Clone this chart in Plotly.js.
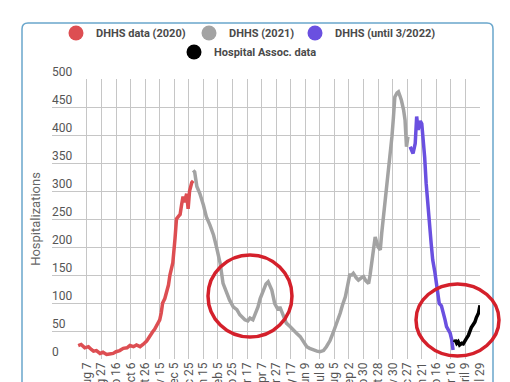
<!DOCTYPE html>
<html>
<head>
<meta charset="utf-8">
<script src="https://cdn.plot.ly/plotly-3.0.1.min.js"></script>
<style>html,body{margin:0;padding:0;background:#fff;}#chart{width:510px;height:382px;}</style>
</head>
<body>
<div id="chart"></div>
<script>
// x = data-point index (one point per reported day), ticks every 20 points
const tickIdx = [0,20,40,60,80,100,120,140,160,180,200,220,240,260,280,300,320,340,360,380,400,420,440,460,480,500,520,540];
const tickLabels = ['Aug 7','Aug 27','Sep 16','Oct 6','Oct 26','Nov 15','Dec 5','Dec 25','Jan 15','Feb 5','Feb 25','Mar 17','Apr 7','Apr 27','May 17','Jun 9','Jul 8','Aug 5','Sep 2','Sep 30','Oct 28','Nov 30','Dec 27','Jan 21','Feb 16','Mar 16','April 9','April 29'];

const dhhs2020X = [-12,-8,-3,2,6,9,13,18,22,27,31,36,40,45,50,55,59,64,68,73,77,80,82,85,87,91,93,97,100,102,104,107,110,112,114,118,121,123,126,128,130,132,134,137,139,141,144,146];
const dhhs2020Y = [24,26,20,22,17,14,15,10,12,8,9,10,13,15,19,20,24,22,25,22,26,29,32,38,43,50,53,62,70,82,100,108,120,132,150,172,215,250,255,258,275,290,280,295,268,300,315,318];

const dhhs2021X = [146,148,151,155,160,164,169,174,178,183,187,192,196,201,206,210,214,217,221,224,228,231,235,238,242,246,249,252,254,258,263,265,270,274,279,283,288,293,298,302,306,311,316,320,325,329,334,338,343,348,351,355,358,361,364,366,370,373,377,380,383,387,389,391,394,396,400,403,405,407,410,412,416,419,421,423,426,428,430,432,435,437,439,441];
const dhhs2021Y = [337,334,308,296,275,254,239,221,200,171,135,117,105,93,88,79,74,70,68,73,70,79,93,108,123,134,138,130,123,99,87,93,76,64,58,52,46,40,30,22,19,16,14,13,15,22,33,46,62,82,96,111,130,150,150,153,145,141,145,147,140,135,150,171,200,218,200,195,225,248,280,314,360,397,430,468,475,477,470,462,445,427,379,397];

const dhhs2022X = [444,446,448,451,453,455,458,460,462,464,466,468,471,473,475,478,480,482,484,487,490,492,494,497,499,501,503];
const dhhs2022Y = [379,372,367,385,433,409,425,420,397,360,314,275,236,205,177,155,135,120,99,95,82,70,58,52,46,35,16];

const hospAssocX = [505,506,508,510,512,515,517,519,521,524,526,528,531,533,535,538,540];
const hospAssocY = [30,34,28,31,25,28,27,33,36,42,50,56,62,66,74,82,96];

const lw = 3.5;
const cRed = '#dd4e52', cGrey = '#a3a3a3', cPurple = '#6a50e0', cBlack = '#000000';
const traces = [
  {x: dhhs2020X, y: dhhs2020Y, name: 'DHHS data (2020)', type: 'scatter', mode: 'lines', line: {color: cRed, width: lw}, showlegend: false},
  {x: dhhs2021X, y: dhhs2021Y, name: 'DHHS (2021)', type: 'scatter', mode: 'lines', line: {color: cGrey, width: lw}, showlegend: false},
  {x: dhhs2022X, y: dhhs2022Y, name: 'DHHS (until 3/2022)', type: 'scatter', mode: 'lines', line: {color: cPurple, width: lw}, showlegend: false},
  {x: hospAssocX, y: hospAssocY, name: 'Hospital Assoc. data', type: 'scatter', mode: 'lines', line: {color: cBlack, width: lw}, showlegend: false},
  // legend entries (circle markers)
  {x: [null], y: [null], name: 'DHHS data (2020)', type: 'scatter', mode: 'markers', marker: {color: cRed, size: 15}, legend: 'legend'},
  {x: [null], y: [null], name: 'DHHS (2021)', type: 'scatter', mode: 'markers', marker: {color: cGrey, size: 15}, legend: 'legend2'},
  {x: [null], y: [null], name: 'DHHS (until 3/2022)', type: 'scatter', mode: 'markers', marker: {color: cPurple, size: 15}, legend: 'legend3'},
  {x: [null], y: [null], name: 'Hospital Assoc. data', type: 'scatter', mode: 'markers', marker: {color: cBlack, size: 15}, legend: 'legend4'}
];

const L = 52, R = 480, T = 79, B = 359;
const px = v => (v - L) / (R - L);
const py = v => (B - v) / (B - T);
const rx = px(L + 6) - px(L), ry = py(T) - py(T + 6);
const bx0 = px(22), bx1 = px(493), byT = py(23), byB = py(400);
const borderPath = `M ${bx0},${byB} L ${bx0},${byT - ry} Q ${bx0},${byT} ${bx0 + rx},${byT} L ${bx1 - rx},${byT} Q ${bx1},${byT} ${bx1},${byT - ry} L ${bx1},${byB}`;

const legendFont = {family: 'Roboto, sans-serif', size: 11, color: '#4a4a4a', weight: 'bold'};
const mkLegend = (xl, yc) => ({orientation: 'h', x: px(xl), xanchor: 'left', y: py(yc), yanchor: 'middle', font: legendFont, bgcolor: 'rgba(0,0,0,0)', borderwidth: 0});

const layout = {
  width: 510, height: 382,
  margin: {l: L, r: 510 - R, t: T, b: 382 - B, pad: 0},
  paper_bgcolor: '#ffffff', plot_bgcolor: '#ffffff',
  font: {family: 'Roboto, sans-serif', size: 12, color: '#555'},
  xaxis: {
    range: [-48, 540], tickmode: 'array', tickvals: tickIdx, ticktext: tickLabels,
    tickangle: -90, showgrid: true, gridcolor: '#c6c6c6', gridwidth: 1,
    zeroline: false, showline: false, ticks: '', tickfont: {size: 12, color: '#555'}
  },
  yaxis: {
    range: [0, 500], dtick: 50, tick0: 0, showgrid: true, gridcolor: '#c6c6c6', gridwidth: 1,
    zeroline: false, showline: false, ticks: '',
    ticklabelposition: 'inside', ticklabeloverflow: 'allow', ticklabelshift: -7, ticklabelstandoff: -3,
    tickfont: {size: 12, color: '#555'},
    title: {text: 'Hospitalizations', font: {size: 13, color: '#666'}, standoff: 8}
  },
  legend: mkLegend(56, 33),
  legend2: mkLegend(189, 33),
  legend3: mkLegend(295, 33),
  legend4: mkLegend(174, 52),
  shapes: [
    {type: 'path', xref: 'paper', yref: 'paper', path: borderPath, line: {color: '#69a6cc', width: 1.5}, layer: 'below'},
    {type: 'circle', xref: 'paper', yref: 'paper', x0: px(208), x1: px(292), y0: py(337), y1: py(255), line: {color: '#d4202b', width: 3.5}},
    {type: 'circle', xref: 'paper', yref: 'paper', x0: px(416), x1: px(499), y0: py(356), y1: py(284), line: {color: '#d4202b', width: 3.5}}
  ],
  showlegend: true
};

Plotly.newPlot('chart', traces, layout, {displayModeBar: false, staticPlot: true});
</script>
</body>
</html>
